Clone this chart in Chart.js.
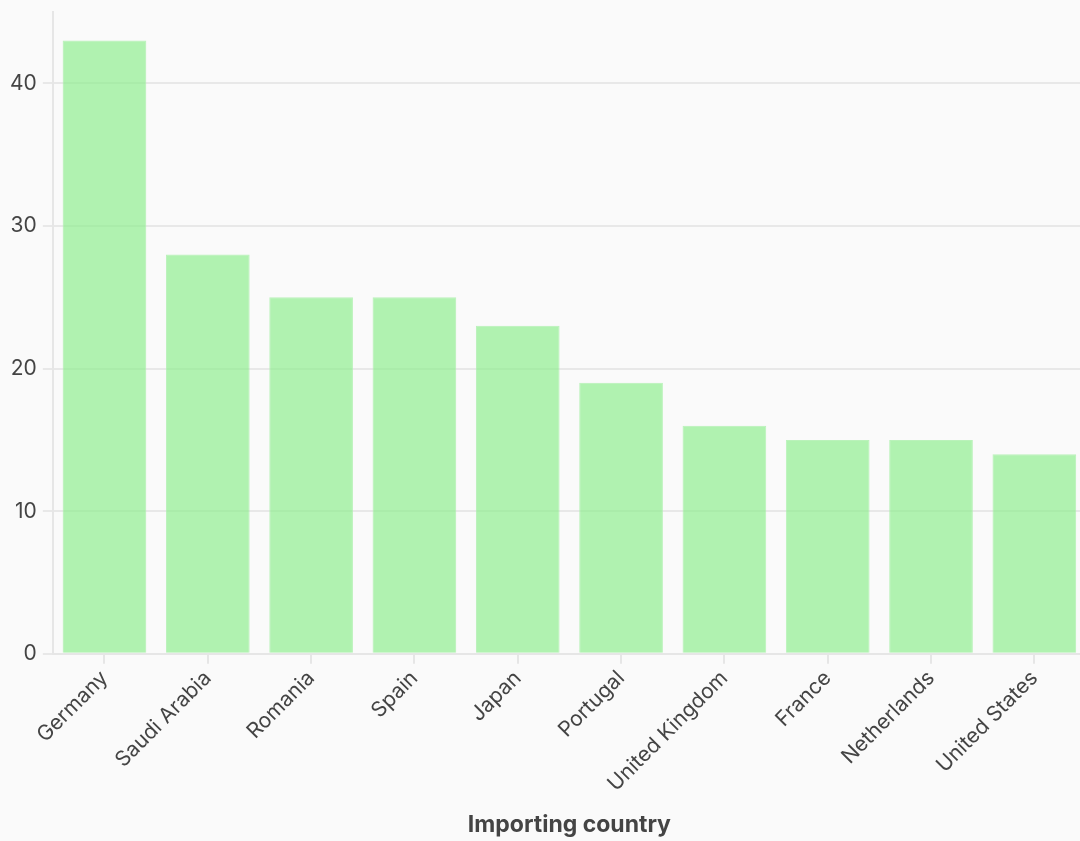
<!DOCTYPE html>
<html>
<head>
<meta charset="utf-8">
<script src="https://cdn.jsdelivr.net/npm/chart.js@4"></script>
<style>
  html, body { margin: 0; padding: 0; background: #fafafa; overflow: hidden; }
  #wrap { width: 1086px; height: 841px; }
</style>
</head>
<body>
<div id="wrap"><canvas id="chart"></canvas></div>
<script>
const countries = ['Germany', 'Saudi Arabia', 'Romania', 'Spain', 'Japan', 'Portugal',
  'United Kingdom', 'France', 'Netherlands', 'United States'];
const imports = [43, 28, 25, 25, 23, 19, 16, 15, 15, 14];
const yTicks = [0, 10, 20, 30, 40];

Chart.defaults.font.family = 'Inter, "Noto Sans", sans-serif';
Chart.defaults.color = '#444';

new Chart(document.getElementById('chart'), {
  type: 'bar',
  data: {
    labels: countries,
    datasets: [{
      data: imports,
      backgroundColor: 'rgba(144, 238, 144, 0.7)',
      borderColor: 'rgba(170, 240, 170, 0.8)',
      borderWidth: 1,
      categoryPercentage: 0.81,
      barPercentage: 1
    }]
  },
  options: {
    responsive: true,
    maintainAspectRatio: false,
    animation: false,
    layout: { padding: { top: 12, right: 0, bottom: 2, left: 4 } },
    plugins: { legend: { display: false }, tooltip: { enabled: false } },
    scales: {
      x: {
        grid: { offset: false, drawOnChartArea: false, drawTicks: true, tickLength: 10, color: '#e6e6e6', lineWidth: 2 },
        border: { color: '#e6e6e6', width: 2 },
        ticks: { maxRotation: 45, minRotation: 45, font: { size: 21 }, color: '#444', padding: 2 },
        title: { display: true, text: 'Importing country', font: { size: 23, weight: 'bold' }, color: '#444', padding: { top: 13, bottom: 0 } }
      },
      y: {
        min: 0,
        max: 45,
        afterBuildTicks: axis => { axis.ticks = yTicks.map(v => ({ value: v })); },
        afterFit: axis => { axis.paddingTop = 0; },
        grid: { color: '#e8e8e8', lineWidth: 2, tickLength: 10 },
        border: { color: '#e6e6e6', width: 2 },
        ticks: { font: { size: 21 }, color: '#444', padding: 6 }
      }
    }
  }
});
</script>
</body>
</html>
